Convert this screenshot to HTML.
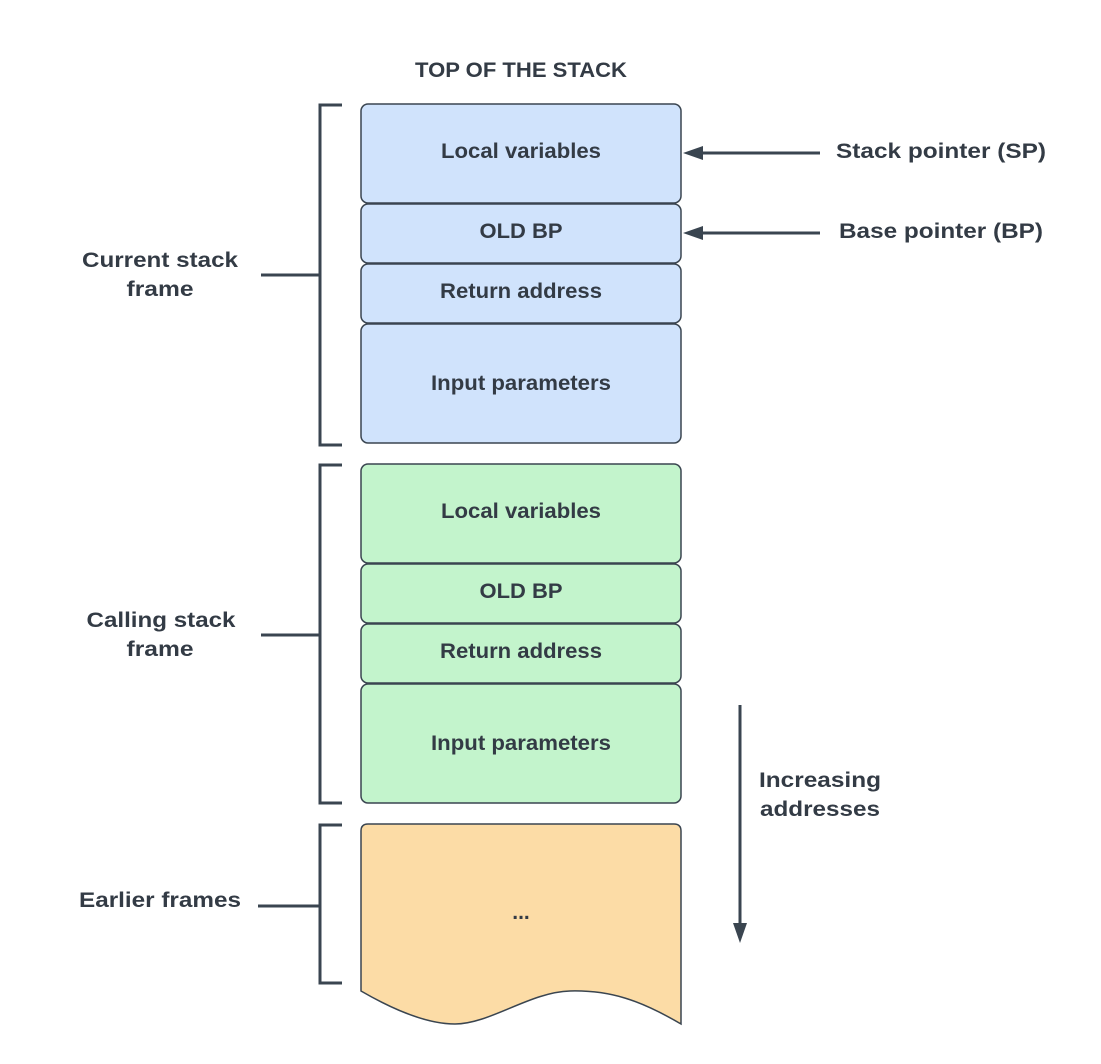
<!DOCTYPE html>
<html><head><style>
body{margin:0;background:#fff;}
svg{display:block}
text{font-family:"Liberation Sans",Arial,sans-serif;font-weight:bold;fill:#333b45;}
</style></head><body>
<svg width="1101" height="1064" viewBox="0 0 1101 1064" xmlns="http://www.w3.org/2000/svg">
<g stroke="#3a4550" stroke-width="1.5">
<rect x="361" y="104" width="320" height="99" rx="7" fill="#d0e3fc"/>
<rect x="361" y="204" width="320" height="59" rx="7" fill="#d0e3fc"/>
<rect x="361" y="264" width="320" height="59" rx="7" fill="#d0e3fc"/>
<rect x="361" y="324" width="320" height="119" rx="7" fill="#d0e3fc"/>
<rect x="361" y="464" width="320" height="99" rx="7" fill="#c3f4cc"/>
<rect x="361" y="564" width="320" height="59" rx="7" fill="#c3f4cc"/>
<rect x="361" y="624" width="320" height="59" rx="7" fill="#c3f4cc"/>
<rect x="361" y="684" width="320" height="119" rx="7" fill="#c3f4cc"/>
<path d="M361 991 L361 831 Q361 824 368 824 L674 824 Q681 824 681 831 L681 1024 C640 1000 610 990 570 991 C530 992 490 1024 455 1024 C420 1024 380 1002 361 991 Z" fill="#fcdca6"/>
</g>
<g stroke="#3a4550" stroke-width="3" fill="none">
<path d="M342 105 H320 V445 H342 M261 275 H320"/>
<path d="M342 465 H320 V803 H342 M261 635 H320"/>
<path d="M342 825 H320 V983 H342 M258 906 H320"/>
<path d="M820 153 H700 M820 233 H700 M740 705 V925"/>
</g>
<g fill="#3a4550">
<polygon points="683,153 703,146 703,160"/>
<polygon points="683,233 703,226 703,240"/>
<polygon points="740,943 733,923 747,923"/>
</g>
<g font-size="21" text-anchor="middle">
<text x="521" y="77" textLength="212" lengthAdjust="spacingAndGlyphs">TOP OF THE STACK</text>
<text x="521" y="158" textLength="160" lengthAdjust="spacingAndGlyphs">Local variables</text>
<text x="521" y="238" textLength="83" lengthAdjust="spacingAndGlyphs">OLD BP</text>
<text x="521" y="298" textLength="162" lengthAdjust="spacingAndGlyphs">Return address</text>
<text x="521" y="390" textLength="180" lengthAdjust="spacingAndGlyphs">Input parameters</text>
<text x="521" y="518" textLength="160" lengthAdjust="spacingAndGlyphs">Local variables</text>
<text x="521" y="598" textLength="83" lengthAdjust="spacingAndGlyphs">OLD BP</text>
<text x="521" y="658" textLength="162" lengthAdjust="spacingAndGlyphs">Return address</text>
<text x="521" y="750" textLength="180" lengthAdjust="spacingAndGlyphs">Input parameters</text>
<text x="521" y="919">...</text>
<text x="941" y="158" textLength="210" lengthAdjust="spacingAndGlyphs">Stack pointer (SP)</text>
<text x="941" y="238" textLength="204" lengthAdjust="spacingAndGlyphs">Base pointer (BP)</text>
<text x="160" y="267" textLength="156" lengthAdjust="spacingAndGlyphs">Current stack</text>
<text x="160" y="296" textLength="67" lengthAdjust="spacingAndGlyphs">frame</text>
<text x="161" y="627" textLength="149" lengthAdjust="spacingAndGlyphs">Calling stack</text>
<text x="160" y="656" textLength="67" lengthAdjust="spacingAndGlyphs">frame</text>
<text x="160" y="907" textLength="162" lengthAdjust="spacingAndGlyphs">Earlier frames</text>
<text x="820" y="787" textLength="122" lengthAdjust="spacingAndGlyphs">Increasing</text>
<text x="820" y="816" textLength="120" lengthAdjust="spacingAndGlyphs">addresses</text>
</g>
</svg>
</body></html>
